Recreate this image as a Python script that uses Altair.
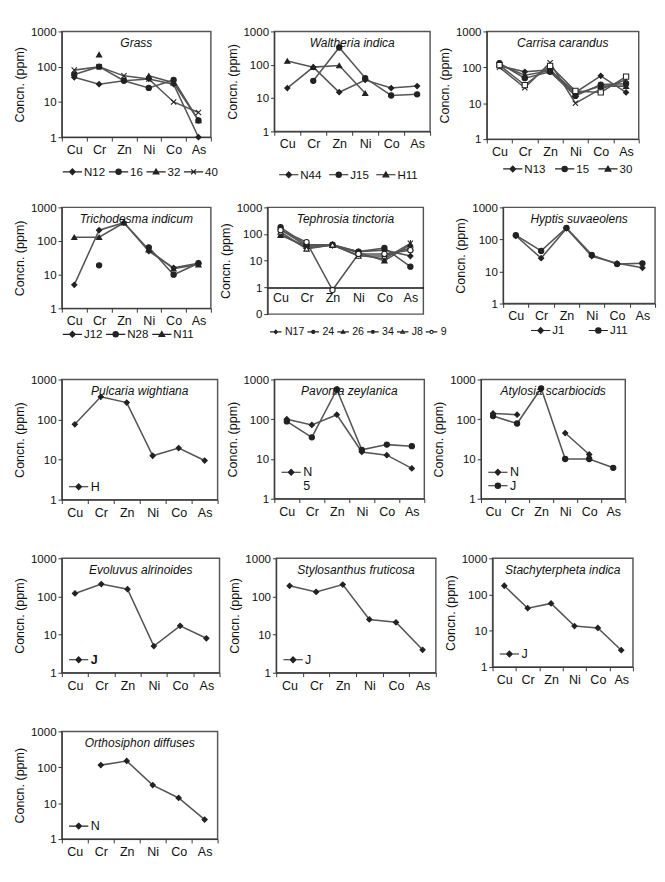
import altair as alt
import pandas as pd

FONT = "Liberation Sans"
INK = "#222222"
LINE = "#555555"
ELEMENTS = ["Cu", "Cr", "Zn", "Ni", "Co", "As"]
N = None

# ---- values (ppm) ----
GRASS = {"N12": [50, 32, 40, 45, 32, 1], "16": [60, 100, 40, 25, 42, 3],
         "32": [N, 220, N, 55, 35, 3], "40": [80, 100, 55, 45, 10, 5]}
WALTHERIA = {"N44": [20, 85, 15, 35, 20, 23], "J15": [N, 33, 330, 40, 12, 13],
             "H11": [130, 85, 95, 14, N, N]}
CARRISA = {"N13": [110, 75, 85, 20, 58, 20], "15": [130, 50, 75, 16, 33, 35],
           "30": [120, 60, 80, 18, 30, 30], "S4": [100, 27, 135, 10, 25, 45],
           "S5": [115, 32, 110, 22, 20, 55]}
TRICHODESMA = {"J12": [5, 210, 350, 50, 16, 22], "N28": [N, 19, N, 65, 10, 22],
               "N11": [130, 130, 350, 55, 15, 20]}
TEPHROSIA = {"N17": [150, 35, 40, 22, 25, 15], "24": [180, 40, 40, 22, 30, 6],
             "26": [90, 35, 38, 20, 10, 40], "34": [100, 30, 38, 16, 12, 45],
             "J8": [120, 28, 40, 15, 15, 30], "9": [140, 50, 0.8, 18, 18, 25]}
HYPTIS = {"J1": [130, 26, 220, 30, 18, 13], "J11": [135, 44, 230, 33, 17, 18]}
PULCARIA = {"H": [76, 370, 265, 12.5, 19.5, 9.5]}
PAVONIA = {"N": [100, 72, 130, 15, 12.5, 5.8], "5": [88, 35, 560, 17, 23, 21]}
ATYLOSIA = {"N": [140, 130, N, 45, 13, N], "J": [120, 78, 600, 10, 10, 6]}
EVOLUVUS = {"J": [120, 212, 155, 5, 17, 8]}
STYLOSANTHUS = {"J": [190, 132, 205, 25, 21, 4]}
STACHYTERPHETA = {"J": [175, 42, 57, 13.5, 12, 2.9]}
ORTHOSIPHON = {"N": [N, 115, 150, 32, 14, 3.5]}

# marker shapes on the plot
PT = {
    "diamond": "diamond",
    "circle": "circle",
    "triangle": "triangle-up",
    "x": "M-1,-1L1,1M-1,1L1,-1",
    "star": "M-1,-1L1,1M-1,1L1,-1M0,-1.3L0,1.3",
    "square": "square",
    "none": "M0,0",
}
# legend symbols: short line with the marker on it
LEG = {
    "diamond": "M-1,0H3M1,-0.6L1.6,0L1,0.6L0.4,0Z",
    "circle": "M-1,0H0.45M1.55,0H3M1.55,0A0.55,0.55 0 1,1 0.45,0A0.55,0.55 0 1,1 1.55,0Z",
    "triangle": "M-1,0H3M1,-0.6L1.6,0.45L0.4,0.45Z",
    "x": "M-1,0H3M0.5,-0.5L1.5,0.5M0.5,0.5L1.5,-0.5",
    "star": "M-1,0H3M0.5,-0.5L1.5,0.5M0.5,0.5L1.5,-0.5M1,-0.65L1,0.65",
    "square": "M-1,0H3M0.5,-0.5H1.5V0.5H0.5Z",
    "none": "M0,0",
}


def panel(title, series, shapes, fills, leg_names, width, height, legend,
          tephrosia=False, leg_shapes=None):
    rows = []
    for s, vals in series.items():
        for i, (el, v) in enumerate(zip(ELEMENTS, vals)):
            rows.append({"el": el, "i": i, "s": s, "v": v})
    df = pd.DataFrame(rows)
    names = list(series.keys())
    leg_shapes = leg_shapes or shapes

    if tephrosia:
        ysc = alt.Scale(type="log", domain=[0.1, 1000], nice=False)
        yvals = [0.1, 1, 10, 100, 1000]
        xaxis = alt.Axis(title=None, labelAngle=0, tickBand="extent", labelFontSize=13,
                         offset=-height / 4, domainColor="#111", domainWidth=1.6,
                         tickSize=0, labelPadding=5)
    else:
        ysc = alt.Scale(type="log", domain=[1, 1000], nice=False)
        yvals = [1, 10, 100, 1000]
        xaxis = alt.Axis(title=None, labelAngle=0, tickBand="extent", labelFontSize=13,
                         tickSize=4, labelPadding=3, domainColor="#333")

    x = alt.X("el:N", sort=ELEMENTS, bandPosition=0.5,
              scale=alt.Scale(type="band", paddingInner=0, paddingOuter=0), axis=xaxis)
    y = alt.Y("v:Q", scale=ysc,
              axis=alt.Axis(values=yvals, format="d", title="Concn. (ppm)", tickSize=4,
                            labelFontSize=12, titleFontSize=13, titlePadding=4,
                            labelPadding=2, domainColor="#333"))

    base = alt.Chart(df)
    line = base.mark_line(color=LINE, strokeWidth=1.6,
                          invalid="break-paths-filter-domains").encode(
        x=x, y=y, detail="s:N", order="i:Q")
    pts = base.mark_point(filled=False, stroke=INK, strokeWidth=1.1, size=30, opacity=1).encode(
        x=x, y=y,
        shape=alt.Shape("s:N", scale=alt.Scale(domain=names, range=[PT[shapes[n]] for n in names]),
                        legend=None),
        fill=alt.Fill("s:N", scale=alt.Scale(domain=names, range=[fills[n] for n in names]),
                      legend=None),
    )
    lg = alt.Legend(**legend)
    leg = base.mark_point(filled=False, strokeWidth=1.2, opacity=1).encode(
        shape=alt.Shape("s:N", scale=alt.Scale(domain=leg_names,
                                               range=[LEG[leg_shapes[n]] for n in leg_names]),
                        legend=lg),
        fill=alt.Fill("s:N", scale=alt.Scale(domain=leg_names,
                                             range=[fills[n] for n in leg_names]),
                      legend=lg),
        stroke=alt.Stroke("s:N", scale=alt.Scale(domain=leg_names,
                                                 range=[INK for n in leg_names]),
                          legend=lg),
    ).transform_filter("false")
    ttl = alt.Chart(pd.DataFrame({"t": [title]})).mark_text(
        font=FONT, fontSize=12.5, fontStyle="italic", color="#111", baseline="middle"
    ).encode(x=alt.value(width / 2), y=alt.value(12), text="t:N")

    return alt.layer(line, pts, leg, ttl).resolve_scale(
        shape="independent", fill="independent", stroke="independent"
    ).properties(width=width, height=height)


def under_legend(lx, ly, pad=0, size=100, font=12, offset=11):
    return dict(title=None, orient="none", legendX=lx, legendY=ly, direction="horizontal",
                symbolSize=size, labelFontSize=font, labelOffset=offset, columnPadding=pad,
                gridAlign="none", symbolStrokeWidth=1.2, labelFont=FONT, padding=0)


def inner_legend(weight="normal"):
    return dict(title=None, orient="bottom-left", direction="vertical", symbolSize=100,
                labelFontSize=13, labelOffset=11, offset=6, rowPadding=0,
                symbolStrokeWidth=1.2, labelFont=FONT, labelFontWeight=weight, padding=0)


K = INK
p_grass = panel("Grass", GRASS, {"N12": "diamond", "16": "circle", "32": "triangle", "40": "x"},
                {"N12": K, "16": K, "32": K, "40": K}, list(GRASS), 155, 110,
                under_legend(0, 140, 0))
p_walt = panel("Waltheria indica", WALTHERIA, {"N44": "diamond", "J15": "circle", "H11": "triangle"},
               {"N44": K, "J15": K, "H11": K}, list(WALTHERIA), 162, 104,
               under_legend(4, 143, 4))
p_carr = panel("Carrisa carandus", CARRISA,
               {"N13": "diamond", "15": "circle", "30": "triangle", "S4": "x", "S5": "square"},
               {"N13": K, "15": K, "30": K, "S4": K, "S5": "white"},
               ["N13", "15", "30"], 158, 112, under_legend(16, 137, 6))
p_tric = panel("Trichodesma indicum", TRICHODESMA, {"J12": "diamond", "N28": "circle", "N11": "triangle"},
               {"J12": K, "N28": K, "N11": K}, list(TRICHODESMA), 155, 105,
               under_legend(0, 126, 0))
p_teph = panel("Tephrosia tinctoria", TEPHROSIA,
               {"N17": "diamond", "24": "circle", "26": "triangle", "34": "star",
                "J8": "triangle", "9": "circle"},
               {"N17": K, "24": K, "26": K, "34": K, "J8": "white", "9": "white"},
               list(TEPHROSIA), 162, 111, under_legend(0, 124, 0, 36, 11, 7), tephrosia=True)
p_hypt = panel("Hyptis suvaeolens", HYPTIS, {"J1": "diamond", "J11": "circle"},
               {"J1": K, "J11": K}, list(HYPTIS), 158, 100, under_legend(28, 122, 22))
p_pulc = panel("Pulcaria wightiana", PULCARIA, {"H": "diamond"}, {"H": K}, ["H"], 162, 125,
               inner_legend())
p_pavo = panel("Pavonia zeylanica", PAVONIA, {"N": "diamond", "5": "circle"}, {"N": K, "5": K},
               ["N", "5"], 156, 124, inner_legend(), leg_shapes={"N": "diamond", "5": "none"})
p_atyl = panel("Atylosia scarbiocids", ATYLOSIA, {"N": "diamond", "J": "circle"}, {"N": K, "J": K},
               ["N", "J"], 150, 124, inner_legend())
p_evol = panel("Evoluvus alrinoides", EVOLUVUS, {"J": "diamond"}, {"J": K}, ["J"], 164, 119,
               inner_legend("bold"))
p_styl = panel("Stylosanthus fruticosa", STYLOSANTHUS, {"J": "diamond"}, {"J": K}, ["J"], 166, 119,
               inner_legend())
p_stac = panel("Stachyterpheta indica", STACHYTERPHETA, {"J": "diamond"}, {"J": K}, ["J"], 146, 113,
               inner_legend())
p_orth = panel("Orthosiphon diffuses", ORTHOSIPHON, {"N": "diamond"}, {"N": K}, ["N"], 162, 112,
               inner_legend())

chart = alt.vconcat(
    alt.hconcat(p_grass, p_walt, p_carr, spacing=6),
    alt.vconcat(
        alt.hconcat(p_tric, p_teph, p_hypt, spacing=6),
        alt.hconcat(p_pulc, p_pavo, p_atyl, spacing=6),
        alt.hconcat(p_evol, p_styl, p_stac, spacing=6),
        alt.hconcat(p_orth, spacing=6),
        spacing=33,
    ),
    spacing=20,
).properties(
    padding={"left": 5, "top": 0, "right": 0, "bottom": 0},
    background="white",
).configure_view(stroke="#555", strokeWidth=1.5).configure_axis(
    grid=False, labelFont=FONT, titleFont=FONT, labelColor="#111", titleColor="#111",
    tickColor="#333", titleFontWeight="normal"
).configure_legend(labelFont=FONT, labelColor="#111")

chart.save("out.html", embed_options={"renderer": "svg", "actions": False})
